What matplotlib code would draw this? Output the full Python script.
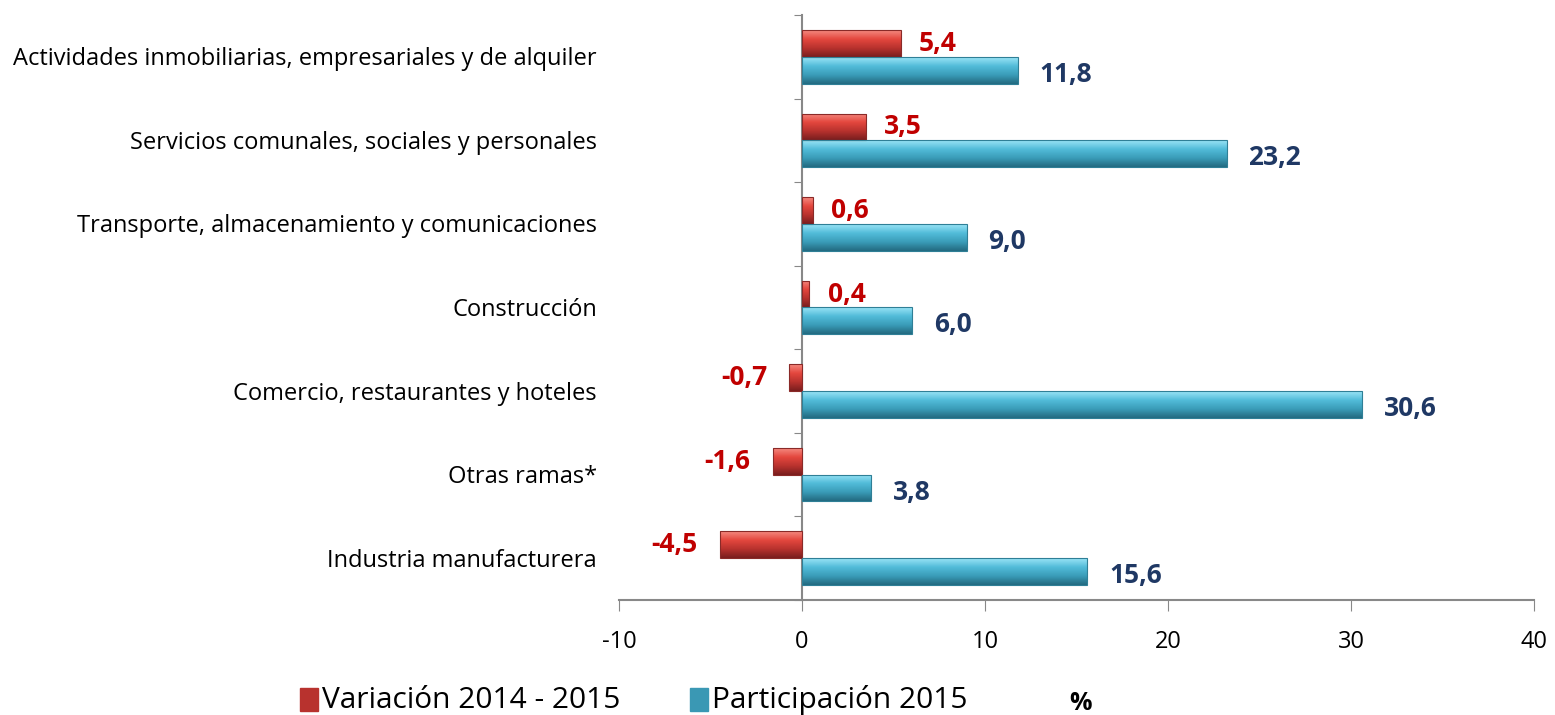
import numpy as np
import matplotlib
matplotlib.use('Agg')
import matplotlib.pyplot as plt
from matplotlib.colors import LinearSegmentedColormap
from matplotlib.patches import Rectangle
import matplotlib.transforms as mtransforms

plt.rcParams['font.family'] = ['Liberation Sans Narrow', 'Open Sans', 'DejaVu Sans']

# Datos (de arriba hacia abajo)
ramas = [
    'Actividades inmobiliarias, empresariales y de alquiler',
    'Servicios comunales, sociales y personales',
    'Transporte, almacenamiento y comunicaciones',
    'Construcción',
    'Comercio, restaurantes y hoteles',
    'Otras ramas*',
    'Industria manufacturera',
]
variacion = [5.4, 3.5, 0.6, 0.4, -0.7, -1.6, -4.5]
participacion = [11.8, 23.2, 9.0, 6.0, 30.6, 3.8, 15.6]
xticks = [-10, 0, 10, 20, 30, 40]

rojo = LinearSegmentedColormap.from_list('rojo', ['#f58a80', '#e4473e', '#b8322e', '#7a1e1e'])
azul = LinearSegmentedColormap.from_list('azul', ['#9ae4f6', '#52bcd9', '#3a9cb8', '#236a80'])

fig = plt.figure(figsize=(15.55, 7.15), dpi=100)
ax = fig.add_axes([0.398, 0.161, 0.5885, 0.818])

y = np.arange(len(ramas))
h = 0.32
b1 = ax.barh(y - 0.16, variacion, height=h, color='#d9443c')
b2 = ax.barh(y + 0.16, participacion, height=h, color='#3fa6c4')

grad = np.linspace(0, 1, 64).reshape(-1, 1)
for bars, cmap, borde in ((b1, rojo, '#8a2a28'), (b2, azul, '#2f7f96')):
    for p in bars:
        x0, yb = p.get_x(), p.get_y()
        w, hh = p.get_width(), p.get_height()
        im = ax.imshow(grad, cmap=cmap, aspect='auto', interpolation='bilinear',
                       extent=[x0, x0 + w, yb + hh, yb], zorder=3)
        im.set_clip_path(p)
        p.set_facecolor('none')
        p.set_edgecolor(borde)
        p.set_linewidth(0.8)
        p.set_zorder(4)

for i, (v, p) in enumerate(zip(variacion, participacion)):
    off = 1.0 if v >= 0 else -1.2
    ax.text(v + off, i - 0.16, f'{v:.1f}'.replace('.', ','), color='#c00000',
            fontsize=19, fontweight='bold', va='center',
            ha='left' if v >= 0 else 'right')
    ax.text(p + 1.2, i + 0.21, f'{p:.1f}'.replace('.', ','), color='#1f3864',
            fontsize=19, fontweight='bold', va='center', ha='left')

ax.set_xlim(-10, 40)
ax.set_ylim(len(ramas) - 0.5, -0.5)
ax.set_xticks(xticks)
ax.set_xticklabels([str(t) for t in xticks], fontsize=17)
ax.tick_params(axis='x', length=8, color='#888888', pad=14)

ax.set_yticks(np.arange(len(ramas) + 1) - 0.5)
ax.set_yticklabels([])
ax.tick_params(axis='y', length=6, color='#888888', direction='out')

for s in ('top', 'right'):
    ax.spines[s].set_visible(False)
ax.spines['left'].set_position(('data', 0))
ax.spines['left'].set_color('#888888')
ax.spines['bottom'].set_color('#888888')
ax.spines['left'].set_linewidth(1.5)
ax.spines['bottom'].set_linewidth(1.5)

trans = mtransforms.blended_transform_factory(fig.transFigure, ax.transData)
for i, r in enumerate(ramas):
    ax.text(597 / 1555, i + 0.03, r, transform=trans, ha='right', va='center', fontsize=17)

# leyenda
fig.patches.append(Rectangle((300 / 1555, 1 - 711 / 715), 18 / 1555, 23 / 715,
                             transform=fig.transFigure, color='#b8322e'))
fig.patches.append(Rectangle((690 / 1555, 1 - 711 / 715), 18 / 1555, 23 / 715,
                             transform=fig.transFigure, color='#3a98b4'))
fig.text(322 / 1555, 1 - 700 / 715, 'Variación 2014 - 2015', fontsize=21.5, va='center')
fig.text(712 / 1555, 1 - 700 / 715, 'Participación 2015', fontsize=21.5, va='center')
fig.text(1080 / 1555, 1 - 703 / 715, '%', fontsize=18, fontweight='bold', va='center', ha='center')

fig.savefig('out.png', dpi=100)
